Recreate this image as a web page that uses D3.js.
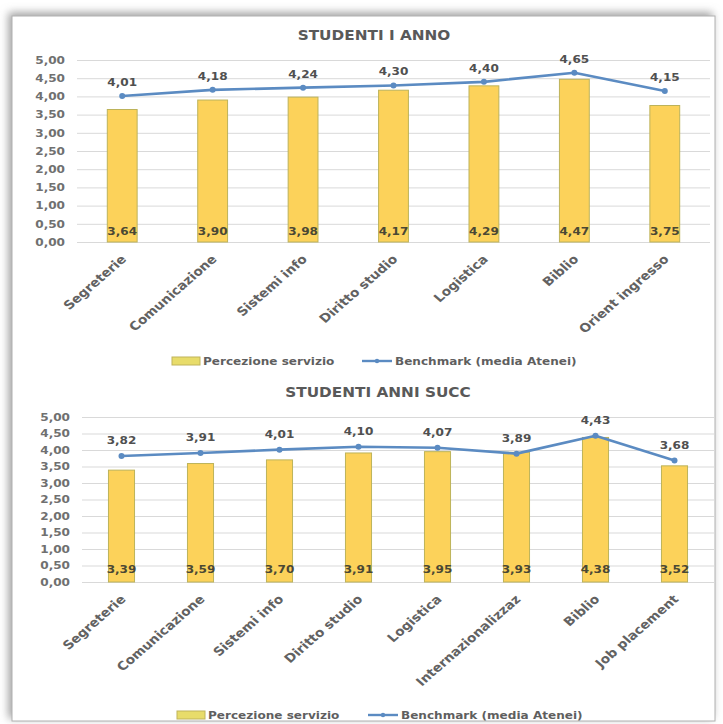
<!DOCTYPE html>
<html>
<head>
<meta charset="utf-8">
<script src="https://cdn.jsdelivr.net/npm/d3@7"></script>
<style>
  html, body { margin: 0; padding: 0; background: #ffffff; }
  svg { display: block; font-family: "DejaVu Sans", Verdana, sans-serif; }
</style>
</head>
<body>
<svg id="chart" width="723" height="724"></svg>
<script>
// Service satisfaction: first-year students
const categoriesFirst = ["Segreterie", "Comunicazione", "Sistemi info", "Diritto studio", "Logistica", "Biblio", "Orient ingresso"];
const perceptionFirst = [3.64, 3.90, 3.98, 4.17, 4.29, 4.47, 3.75];
const benchmarkFirst  = [4.01, 4.18, 4.24, 4.30, 4.40, 4.65, 4.15];

// Service satisfaction: students of later years
const categoriesLater = ["Segreterie", "Comunicazione", "Sistemi info", "Diritto studio", "Logistica", "Internazionalizzaz", "Biblio", "Job placement"];
const perceptionLater = [3.39, 3.59, 3.70, 3.91, 3.95, 3.93, 4.38, 3.52];
const benchmarkLater  = [3.82, 3.91, 4.01, 4.10, 4.07, 3.89, 4.43, 3.68];

const yTickValues = [0, 0.5, 1, 1.5, 2, 2.5, 3, 3.5, 4, 4.5, 5];
const titles = ["STUDENTI I ANNO", "STUDENTI ANNI SUCC"];
const legendLabels = ["Percezione servizio", "Benchmark (media Atenei)"];

const BAR_FILL = "#fcd25a";
const BAR_STROKE = "#bdb35a";
const LINE_COLOR = "#5b8bc2";
const SX = 1.15; // horizontal widening applied to all lettering

const fmt = v => d3.format(".2f")(v).replace(".", ",");

const svg = d3.select("#chart");

// Text placed at (x, y), widened horizontally
function wideText(parent, x, y, str) {
  return parent.append("text")
    .attr("transform", `translate(${x},${y}) scale(${SX},1)`)
    .text(str);
}

// Outer frame with a soft shadow
const defs = svg.append("defs");
const shadow = defs.append("filter").attr("id", "frameShadow")
  .attr("x", "-5%").attr("y", "-5%").attr("width", "110%").attr("height", "110%");
shadow.append("feDropShadow")
  .attr("dx", -3).attr("dy", -3).attr("stdDeviation", 4)
  .attr("flood-color", "#808080").attr("flood-opacity", 0.75);

svg.append("rect")
  .attr("x", 12).attr("y", 16).attr("width", 703).attr("height", 705)
  .attr("fill", "#ffffff").attr("stroke", "#b0b0b0").attr("stroke-width", 1)
  .attr("filter", "url(#frameShadow)");

function drawPanel(cfg) {
  const g = svg.append("g");

  const x = d3.scaleBand().domain(cfg.categories).range([cfg.left, cfg.right]).paddingInner(0).paddingOuter(0);
  const y = d3.scaleLinear().domain([0, 5]).range([cfg.bottom, cfg.top]);
  const barW = x.bandwidth() * 0.33;
  const cx = c => x(c) + x.bandwidth() / 2;

  // Title
  wideText(g, cfg.titleX, cfg.titleY, cfg.title)
    .attr("text-anchor", "middle")
    .attr("font-size", 13.3).attr("font-weight", "bold").attr("fill", "#595959");

  // Gridlines and y tick labels
  const yAxis = d3.axisLeft(y).tickValues(yTickValues)
    .tickSize(-(cfg.right - cfg.left)).tickFormat(fmt).tickPadding(12);
  const ya = g.append("g").attr("transform", `translate(${cfg.left},0)`).call(yAxis);
  ya.select(".domain").remove();
  ya.selectAll(".tick line").attr("stroke", "#d9d9d9").attr("stroke-width", 1);
  ya.selectAll(".tick text")
    .attr("x", 0)
    .attr("transform", `translate(-12,0) scale(${SX},1)`)
    .attr("font-size", 10.5).attr("font-weight", "bold").attr("fill", "#707070")
    .attr("font-family", "DejaVu Sans, Verdana, sans-serif");

  // Bars
  g.append("g").selectAll("rect")
    .data(cfg.perception)
    .join("rect")
    .attr("x", (d, i) => x(cfg.categories[i]) + (x.bandwidth() - barW) / 2)
    .attr("y", d => y(d))
    .attr("width", barW)
    .attr("height", d => y(0) - y(d))
    .attr("fill", BAR_FILL)
    .attr("stroke", BAR_STROKE).attr("stroke-width", 1);

  // Bar value labels at the base of each bar
  g.append("g").selectAll("text")
    .data(cfg.perception)
    .join("text")
    .attr("transform", (d, i) => `translate(${cx(cfg.categories[i])},${y(0) - cfg.barLabelOffset}) scale(${SX},1)`)
    .attr("text-anchor", "middle")
    .attr("font-size", 10.5).attr("font-weight", "bold").attr("fill", "#4a4834")
    .text(d => fmt(d));

  // Benchmark line
  const pts = cfg.benchmark.map((v, i) => [cx(cfg.categories[i]), y(v)]);
  g.append("path")
    .datum(pts)
    .attr("d", d3.line())
    .attr("fill", "none").attr("stroke", LINE_COLOR).attr("stroke-width", 2.6)
    .attr("stroke-linejoin", "round");
  g.append("g").selectAll("circle")
    .data(pts)
    .join("circle")
    .attr("cx", d => d[0]).attr("cy", d => d[1]).attr("r", 3)
    .attr("fill", LINE_COLOR);

  // Benchmark value labels above the points
  g.append("g").selectAll("text")
    .data(cfg.benchmark)
    .join("text")
    .attr("transform", (d, i) => `translate(${cx(cfg.categories[i])},${y(d) - cfg.lineLabelOffset}) scale(${SX},1)`)
    .attr("text-anchor", "middle")
    .attr("font-size", 10.5).attr("font-weight", "bold").attr("fill", "#505050")
    .text(d => fmt(d));

  // Rotated category labels
  g.append("g").selectAll("text")
    .data(cfg.categories)
    .join("text")
    .attr("transform", d => `translate(${cx(d) + 5},${y(0) + 18}) scale(${SX},1) rotate(-45)`)
    .attr("text-anchor", "end")
    .attr("font-size", 12).attr("font-weight", "bold").attr("fill", "#626262")
    .text(d => d);

  // Legend
  const lg = g.append("g");
  lg.append("rect")
    .attr("x", cfg.legendX).attr("y", cfg.legendY - 4).attr("width", 28).attr("height", 8)
    .attr("fill", "#e8dc6a").attr("stroke", "#c0b45a").attr("stroke-width", 1);
  wideText(lg, cfg.legendX + 31, cfg.legendY + 4, legendLabels[0])
    .attr("font-size", 10.5).attr("font-weight", "bold").attr("fill", "#5f5f5f");
  lg.append("line")
    .attr("x1", cfg.legendX2).attr("x2", cfg.legendX2 + 30)
    .attr("y1", cfg.legendY).attr("y2", cfg.legendY)
    .attr("stroke", LINE_COLOR).attr("stroke-width", 2.4);
  lg.append("circle")
    .attr("cx", cfg.legendX2 + 15).attr("cy", cfg.legendY).attr("r", 2.2)
    .attr("fill", LINE_COLOR);
  wideText(lg, cfg.legendX2 + 33, cfg.legendY + 4, legendLabels[1])
    .attr("font-size", 10.5).attr("font-weight", "bold").attr("fill", "#5f5f5f");
}

drawPanel({
  title: titles[0], titleX: 374, titleY: 40,
  categories: categoriesFirst, perception: perceptionFirst, benchmark: benchmarkFirst,
  left: 77, right: 710, top: 60, bottom: 242,
  barLabelOffset: 7, lineLabelOffset: 10,
  legendX: 172, legendX2: 362, legendY: 361
});

drawPanel({
  title: titles[1], titleX: 378, titleY: 397,
  categories: categoriesLater, perception: perceptionLater, benchmark: benchmarkLater,
  left: 82, right: 714, top: 417, bottom: 582,
  barLabelOffset: 9, lineLabelOffset: 12,
  legendX: 177, legendX2: 368, legendY: 715
});
</script>
</body>
</html>
